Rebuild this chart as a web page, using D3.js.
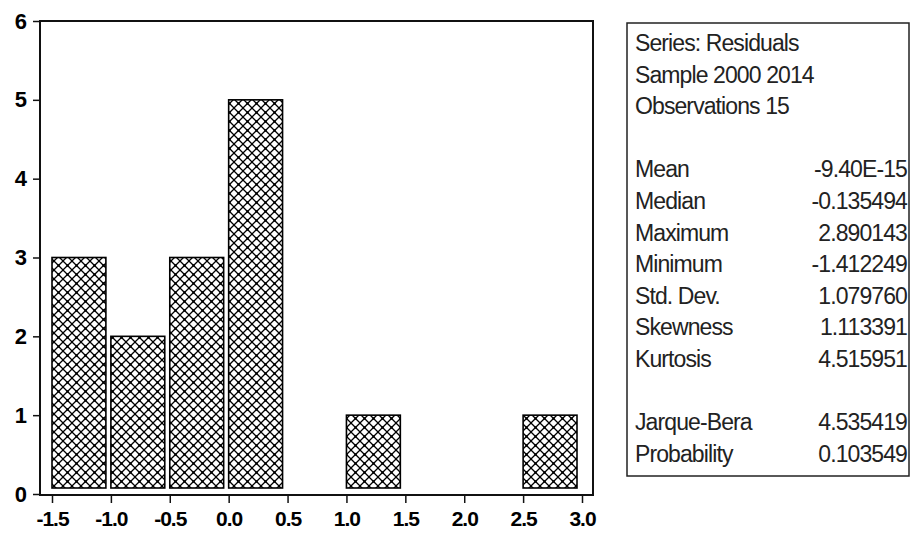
<!DOCTYPE html>
<html>
<head>
<meta charset="utf-8">
<script src="https://cdn.jsdelivr.net/npm/d3@7"></script>
<style>
  body { margin: 0; background: #fff; }
  svg { display: block; }
</style>
</head>
<body>
<svg width="911" height="539"></svg>
<script>
// histogram bins (lower edge) and counts
const binStarts = [-1.5, -1.0, -0.5, 0.0, 0.5, 1.0, 1.5, 2.0, 2.5]
const binWidth = 0.5
const counts = [3, 2, 3, 5, 0, 1, 0, 0, 1]

const xTicks = [-1.5, -1.0, -0.5, 0.0, 0.5, 1.0, 1.5, 2.0, 2.5, 3.0]
const yTicks = [0, 1, 2, 3, 4, 5, 6]

// stats panel
const headerLines = ['Series: Residuals', 'Sample 2000 2014', 'Observations 15']
const statNames = ['Mean', 'Median', 'Maximum', 'Minimum', 'Std. Dev.', 'Skewness', 'Kurtosis']
const statValues = ['-9.40E-15', '-0.135494', '2.890143', '-1.412249', '1.079760', '1.113391', '4.515951']
const testNames = ['Jarque-Bera', 'Probability']
const testValues = ['4.535419', '0.103549']

const svg = d3.select('svg')

const plotLeft = 40, plotRight = 593, plotTop = 21, plotBottom = 495

const xScale = d3.scaleLinear().domain([-1.5, 3.0]).range([52, 582])
const yScale = d3.scaleLinear().domain([0, 6]).range([494, plotTop])

// crosshatch pattern
const p = 9
const defs = svg.append('defs')
const pat = defs.append('pattern')
  .attr('id', 'hatch')
  .attr('patternUnits', 'userSpaceOnUse')
  .attr('width', p)
  .attr('height', p)
pat.append('rect').attr('width', p).attr('height', p).attr('fill', '#fff')
pat.append('path')
  .attr('d', `M-1,-1 L${p + 1},${p + 1} M-1,${p + 1} L${p + 1},-1`)
  .attr('stroke', '#000')
  .attr('stroke-width', 1.3)
pat.append('rect')
  .attr('x', p / 2 - 1.2).attr('y', p / 2 - 1.2)
  .attr('width', 2.4).attr('height', 2.4)
  .attr('fill', '#000')

const bins = binStarts.map((b, i) => ({ x0: b, x1: b + binWidth, n: counts[i] }))

svg.append('g')
  .selectAll('rect')
  .data(bins.filter((d) => d.n > 0))
  .enter()
  .append('rect')
  .attr('x', (d) => xScale(d.x0))
  .attr('y', (d) => yScale(d.n))
  .attr('width', (d) => xScale(d.x1) - xScale(d.x0) - 5)
  .attr('height', (d) => yScale(0) - 6 - yScale(d.n))
  .attr('fill', 'url(#hatch)')
  .attr('stroke', '#000')
  .attr('stroke-width', 1.6)

// frame
svg.append('path')
  .attr('d', `M${plotLeft},${plotTop} H${plotRight} V${plotBottom} H${plotLeft} Z`)
  .attr('fill', 'none')
  .attr('stroke', '#111')
  .attr('stroke-width', 2)

const hyphenFmt = (f) => (d) => d3.format(f)(d).replace('\u2212', '-')

// axes
const xAxis = d3.axisBottom(xScale)
  .tickValues(xTicks)
  .tickFormat(hyphenFmt('.1f'))
  .tickSize(8)
  .tickPadding(8)

const xg = svg.append('g')
  .attr('transform', `translate(0, ${plotBottom})`)
  .call(xAxis)
xg.select('.domain').remove()
xg.selectAll('line').attr('stroke', '#111').attr('stroke-width', 1.5)
xg.selectAll('text')
  .attr('fill', '#000')
  .style('font-family', '"Liberation Sans", Arial, sans-serif')
  .style('font-weight', 'bold')
  .style('font-size', '21px')
  .style('letter-spacing', '-1px')

const yAxis = d3.axisLeft(yScale)
  .tickValues(yTicks)
  .tickFormat(hyphenFmt('d'))
  .tickSize(7)
  .tickPadding(6)

const yg = svg.append('g')
  .attr('transform', `translate(${plotLeft}, 0)`)
  .call(yAxis)
yg.select('.domain').remove()
yg.selectAll('line').attr('stroke', '#111').attr('stroke-width', 1.5)
yg.selectAll('text')
  .attr('fill', '#000')
  .style('font-family', '"Liberation Sans", Arial, sans-serif')
  .style('font-weight', 'bold')
  .style('font-size', '22px')

// stats box
const box = svg.append('g')
box.append('rect')
  .attr('x', 627)
  .attr('y', 23)
  .attr('width', 282)
  .attr('height', 453)
  .attr('fill', '#fff')
  .attr('stroke', '#222')
  .attr('stroke-width', 1.5)

const rowY = (i) => 43 + 31.6 * i
const rows = []
headerLines.forEach((t, i) => rows.push({ label: t, value: '', row: i }))
statNames.forEach((t, i) => rows.push({ label: t, value: statValues[i], row: 4 + i }))
testNames.forEach((t, i) => rows.push({ label: t, value: testValues[i], row: 12 + i }))

const textStyle = (sel) => sel
  .style('font-family', '"Liberation Sans", Arial, sans-serif')
  .style('font-size', '23px')
  .style('letter-spacing', '-0.9px')
  .attr('fill', '#222')
  .attr('dominant-baseline', 'central')

box.selectAll('text.lab')
  .data(rows)
  .enter()
  .append('text')
  .attr('class', 'lab')
  .attr('x', 635)
  .attr('y', (d) => rowY(d.row))
  .text((d) => d.label)
  .call(textStyle)

box.selectAll('text.val')
  .data(rows.filter((d) => d.value))
  .enter()
  .append('text')
  .attr('class', 'val')
  .attr('x', 907)
  .attr('y', (d) => rowY(d.row))
  .attr('text-anchor', 'end')
  .text((d) => d.value)
  .call(textStyle)
</script>
</body>
</html>
